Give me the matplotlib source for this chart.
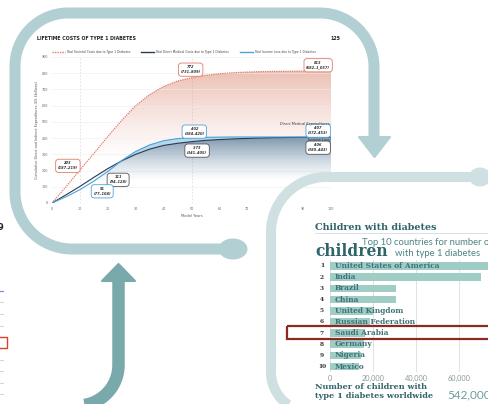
import numpy as np
import matplotlib
matplotlib.use('Agg')
import matplotlib.pyplot as plt
from matplotlib.path import Path
from matplotlib.patches import PathPatch, Ellipse, Polygon, Rectangle
import matplotlib.transforms as mtrans

W, H = 488, 404

# ---------------- data: lifetime costs chart ----------------
years = [0, 5, 10, 15, 20, 25, 30, 35, 40, 45, 50, 55, 60, 65, 70, 75, 80, 85, 90, 95, 100]
societal = [0, 100, 203, 305, 410, 510, 600, 668, 718, 752, 772, 787, 797, 803, 807, 810, 811, 812, 813, 813, 813]
direct_medical = [0, 50, 102, 158, 212, 260, 300, 332, 355, 368, 378, 386, 391, 395, 398, 401, 403, 404, 405, 406, 406]
income_loss = [0, 38, 82, 135, 194, 262, 318, 358, 384, 397, 402, 405, 406, 407, 407, 407, 407, 407, 407, 407, 407]
series_names = ["Total Societal Costs due to Type 1 Diabetes",
                "Total Direct Medical Costs due to Type 1 Diabetes",
                "Total Income Loss due to Type 1 Diabetes"]
ann_texts = ["203\n(187–219)", "772\n(731–809)", "813\n(682–1,057)",
             "402\n(384–420)", "373\n(341–405)", "111\n(94–128)", "91\n(77–104)",
             "407\n(372–453)", "406\n(380–443)"]

# ---------------- data: children bar chart ----------------
ranks = ["1", "2", "3", "4", "5", "6", "7", "8", "9", "10"]
countries = ["United States of America", "India", "Brazil", "China", "United Kingdom",
             "Russian Federation", "Saudi Arabia", "Germany", "Nigeria", "Mexico"]
children = [84100, 70200, 30900, 30500, 19800, 18500, 16100, 15800, 14400, 13500]
bar_ticks = [0, 20000, 40000, 60000]
bar_ticklabels = ["0", "20,000", "40,000", "60,000"]

RED = '#e07b68'
NAVY = '#2a3a55'
BLUE = '#4da3d8'
GREY = '#555555'

fig = plt.figure(figsize=(W / 100, H / 100), dpi=100)
fig.patch.set_facecolor('white')


def fr(x0, y0, x1, y1):
    return [x0 / W, 1 - y1 / H, (x1 - x0) / W, (y1 - y0) / H]


# ---------------- main line chart ----------------
ax = fig.add_axes(fr(52, 57, 331, 203))
ax.set_facecolor('none')
x = np.array(years, float)
ys = np.array(societal, float)
yd = np.array(direct_medical, float)
yi = np.array(income_loss, float)


def grad_fill(ax, ytop, ybot, rgb, y_lo, y_hi, a_hi, z):
    poly = ax.fill_between(x, ytop, ybot, facecolor='none', edgecolor='none', lw=0)
    path = poly.get_paths()[0]
    patch = PathPatch(path, transform=ax.transData, facecolor='none', edgecolor='none')
    ax.add_patch(patch)
    yy = np.linspace(0, 900, 400)
    alpha = np.clip((yy - y_lo) / (y_hi - y_lo), 0, 1) ** 1.3 * a_hi
    img = np.zeros((400, 2, 4))
    img[..., :3] = rgb
    img[..., 3] = alpha[:, None]
    im = ax.imshow(img, extent=[0, 100, 0, 900], origin='lower', aspect='auto',
                   zorder=z, interpolation='bilinear')
    im.set_clip_path(patch)


grad_fill(ax, ys, 0, (0.87, 0.55, 0.47), 260, 813, 0.55, 1)
grad_fill(ax, np.maximum(yd, yi), 0, (0.30, 0.45, 0.58), 130, 410, 0.72, 2)
ax.fill_between(x, yi, yd, where=yi >= yd, facecolor='#b7d7ea', edgecolor='none', zorder=3)

ax.plot(x, ys, color=RED, lw=0.9, ls=(0, (1, 0.8)), zorder=5, label=series_names[0])
ax.plot(x, yd, color=NAVY, lw=0.8, zorder=5, label=series_names[1])
ax.plot(x, yi, color=BLUE, lw=0.8, zorder=5, label=series_names[2])

ax.set_xlim(0, 100)
ax.set_ylim(0, 900)
ax.set_xticks(range(0, 101, 10))
ax.set_yticks(range(0, 901, 100))
ax.tick_params(labelsize=2.4, colors='#666666', length=0, pad=3)
for s in ax.spines.values():
    s.set_visible(False)
ax.grid(axis='y', color='#eeeeee', lw=0.4, zorder=0)
for gx in [10, 50, 100]:
    ax.axvline(gx, color='#cfcfcf', lw=0.4, ls=(0, (3, 3)), zorder=0)
ax.set_xlabel("Model Years", fontsize=2.6, color='#555555', labelpad=2)
ax.set_ylabel("Cumulative Direct and Indirect Expenditures (US $billions)", fontsize=2.4,
              color='#555555', labelpad=2)
leg = ax.legend(loc='lower center', bbox_to_anchor=(0.473, 1.0), ncol=3, fontsize=2.15,
                frameon=False, handlelength=4.3, columnspacing=3.6, handletextpad=0.4,
                labelcolor='#444444')
for ln in leg.get_lines():
    ln.set_linewidth(1.0)

ann_pos = [(5.7, 229), (49.7, 822), (95.4, 849), (51, 440), (52, 323), (23.7, 143), (18, 72),
           (95.4, 446), (95.4, 341)]
ann_col = [RED, RED, RED, BLUE, GREY, GREY, BLUE, BLUE, GREY]
for t, (px, py), c in zip(ann_texts, ann_pos, ann_col):
    ax.text(px, py, t, fontsize=2.6, fontweight='bold', fontstyle='italic', color='#333333',
            ha='center', va='center', linespacing=1.3, zorder=8,
            bbox=dict(boxstyle='round,pad=0.6,rounding_size=0.8', fc='white', ec=c, lw=0.6))
ax.text(100, 487, "Direct Medical Expenditures:", fontsize=2.5, fontstyle='italic',
        color='#333333', ha='right', va='center', zorder=8)
ax.text(100, 389, "Income Loss:", fontsize=2.5, fontstyle='italic',
        color='#333333', ha='right', va='center', zorder=8)

fig.text(37 / W, 1 - 38 / H, "LIFETIME COSTS OF TYPE 1 DIABETES", fontsize=3.4,
         fontweight='bold', color='#222222', va='center')
fig.text(340 / W, 1 - 38 / H, "125", fontsize=3.4, fontweight='bold', color='#222222',
         va='center', ha='right')

# ---------------- bar chart ----------------
TEAL_TXT = '#2f6468'
bx = fig.add_axes(fr(330, 260.4, 488, 372.2))
bx.set_facecolor('none')
pos = np.arange(1, 11)
bx.barh(pos, children, height=0.68, color='#9fcdc6', zorder=2)
bx.set_xlim(0, 60000 * (488 - 330) / (459 - 330))
bx.set_ylim(10.5, 0.5)
for s in bx.spines.values():
    s.set_visible(False)
bx.set_yticks([])
bx.set_xticks(bar_ticks)
bx.set_xticklabels(bar_ticklabels)
bx.tick_params(axis='x', length=0, labelsize=5.3, colors='#8a9a9a', pad=2)
for t in bx.get_xticklabels():
    t.set_family('Lato')
bx.grid(axis='x', color='#dddddd', lw=0.6, zorder=0)
off = mtrans.offset_copy(bx.transData, fig=fig, x=5 * 0.72, y=0, units='points')
offr = mtrans.offset_copy(bx.transData, fig=fig, x=-8 * 0.72, y=0, units='points')
for p, name, r in zip(pos, countries, ranks):
    bx.text(0, p, name, transform=off, fontsize=5.4, family='DejaVu Serif', fontweight='bold',
            color='#3e7276', va='center', ha='left', zorder=3)
    bx.text(0, p, r, transform=offr, fontsize=4.2, family='DejaVu Serif', fontweight='bold',
            color='#333333', va='center', ha='center', zorder=3)

fig.text(315 / W, 1 - 228 / H, "Children with diabetes", fontsize=6.9, family='DejaVu Serif',
         fontweight='bold', color=TEAL_TXT, va='center')
fig.text(362 / W, 1 - 245 / H, "Top 10 countries for number of", fontsize=6.8, family='Lato',
         color='#4f8285', va='baseline')
fig.text(315 / W, 1 - 256 / H, "children", fontsize=11.2, family='DejaVu Serif',
         fontweight='bold', color=TEAL_TXT, va='baseline')
fig.text(395 / W, 1 - 256 / H, "with type 1 diabetes", fontsize=6.8, family='Lato',
         color='#4f8285', va='baseline')
fig.text(315 / W, 1 - 387 / H, "Number of children with", fontsize=5.9, family='DejaVu Serif',
         fontweight='bold', color=TEAL_TXT, va='center')
fig.text(315 / W, 1 - 396 / H, "type 1 diabetes worldwide", fontsize=5.9, family='DejaVu Serif',
         fontweight='bold', color=TEAL_TXT, va='center')
fig.text(447 / W, 1 - 395 / H, "542,000", fontsize=8.5, family='Lato',
         color='#6f9c9e', va='center')

# ---------------- decorations overlay ----------------
ov = fig.add_axes([0, 0, 1, 1], zorder=10)
ov.set_xlim(0, W)
ov.set_ylim(H, 0)
ov.axis('off')
ov.patch.set_alpha(0)


def arc(cx, cy, r, a0, a1, n=40):
    t = np.radians(np.linspace(a0, a1, n))
    return list(zip(cx + r * np.cos(t), cy + r * np.sin(t)))


def stroke(pts, color, lw_px, z=1):
    path = Path(pts)
    ov.add_patch(PathPatch(path, fc='none', ec=color, lw=lw_px * 0.72, capstyle='butt',
                           joinstyle='round', zorder=z))


# thin line under bar-chart title
ov.plot([315, 488], [233, 233], color='#c9d3d3', lw=0.5)

# big teal frame
BIG = '#b2cfd3'
pts = [(233, 249), (72, 249)] + arc(72, 192, 57, 90, 180) + [(15, 68)] + \
      arc(68, 66, 53, 180, 270) + [(320, 13)] + arc(320, 67, 54, 270, 360) + [(374, 140)]
stroke(pts, BIG, 11)
ov.add_patch(Ellipse((233, 249), 29, 21, fc=BIG, ec='none'))
ov.add_patch(Polygon([(359, 137), (390, 137), (374.5, 157)], closed=True, fc=BIG, ec=BIG,
                     lw=1.5, joinstyle='round'))

# light frame of second panel
LIGHT = '#cfe0e2'
pts = [(476, 177), (326, 177)] + arc(326, 232, 55, 270, 180) + [(271, 372)] + \
      arc(311, 372, 40, 180, 90)
stroke(pts, LIGHT, 10)
ov.add_patch(Ellipse((480, 177), 22, 19, fc=LIGHT, ec='none'))

# dark up arrow
DARK = '#7aa9ab'
pts = arc(78, 365, 40.5, 90, 0) + [(118.5, 280)]
stroke(pts, DARK, 12.5)
ov.add_patch(Polygon([(102, 281), (135, 281), (118.5, 264)], closed=True, fc=DARK, ec=DARK,
                     lw=1.5, joinstyle='round'))

# highlight rectangle on bar chart
ov.add_patch(Rectangle((287, 326), 220, 13, fc='none', ec='#8b2a20', lw=1.6))

# fragments of neighbouring chart at left edge
ov.text(-2, 227, "9", fontsize=6, fontweight='bold', color='#222222', va='center')
ov.plot([0, 3], [291, 291], color='#6b8fd6', lw=0.8)
for gy in [302, 314, 326, 360, 371, 383, 394]:
    ov.plot([0, 3], [gy, gy], color='#cccccc', lw=0.6)
ov.add_patch(Rectangle((-3, 337), 10, 11, fc='none', ec='#d9412b', lw=1.0))

fig.savefig('out.png', dpi=100)
